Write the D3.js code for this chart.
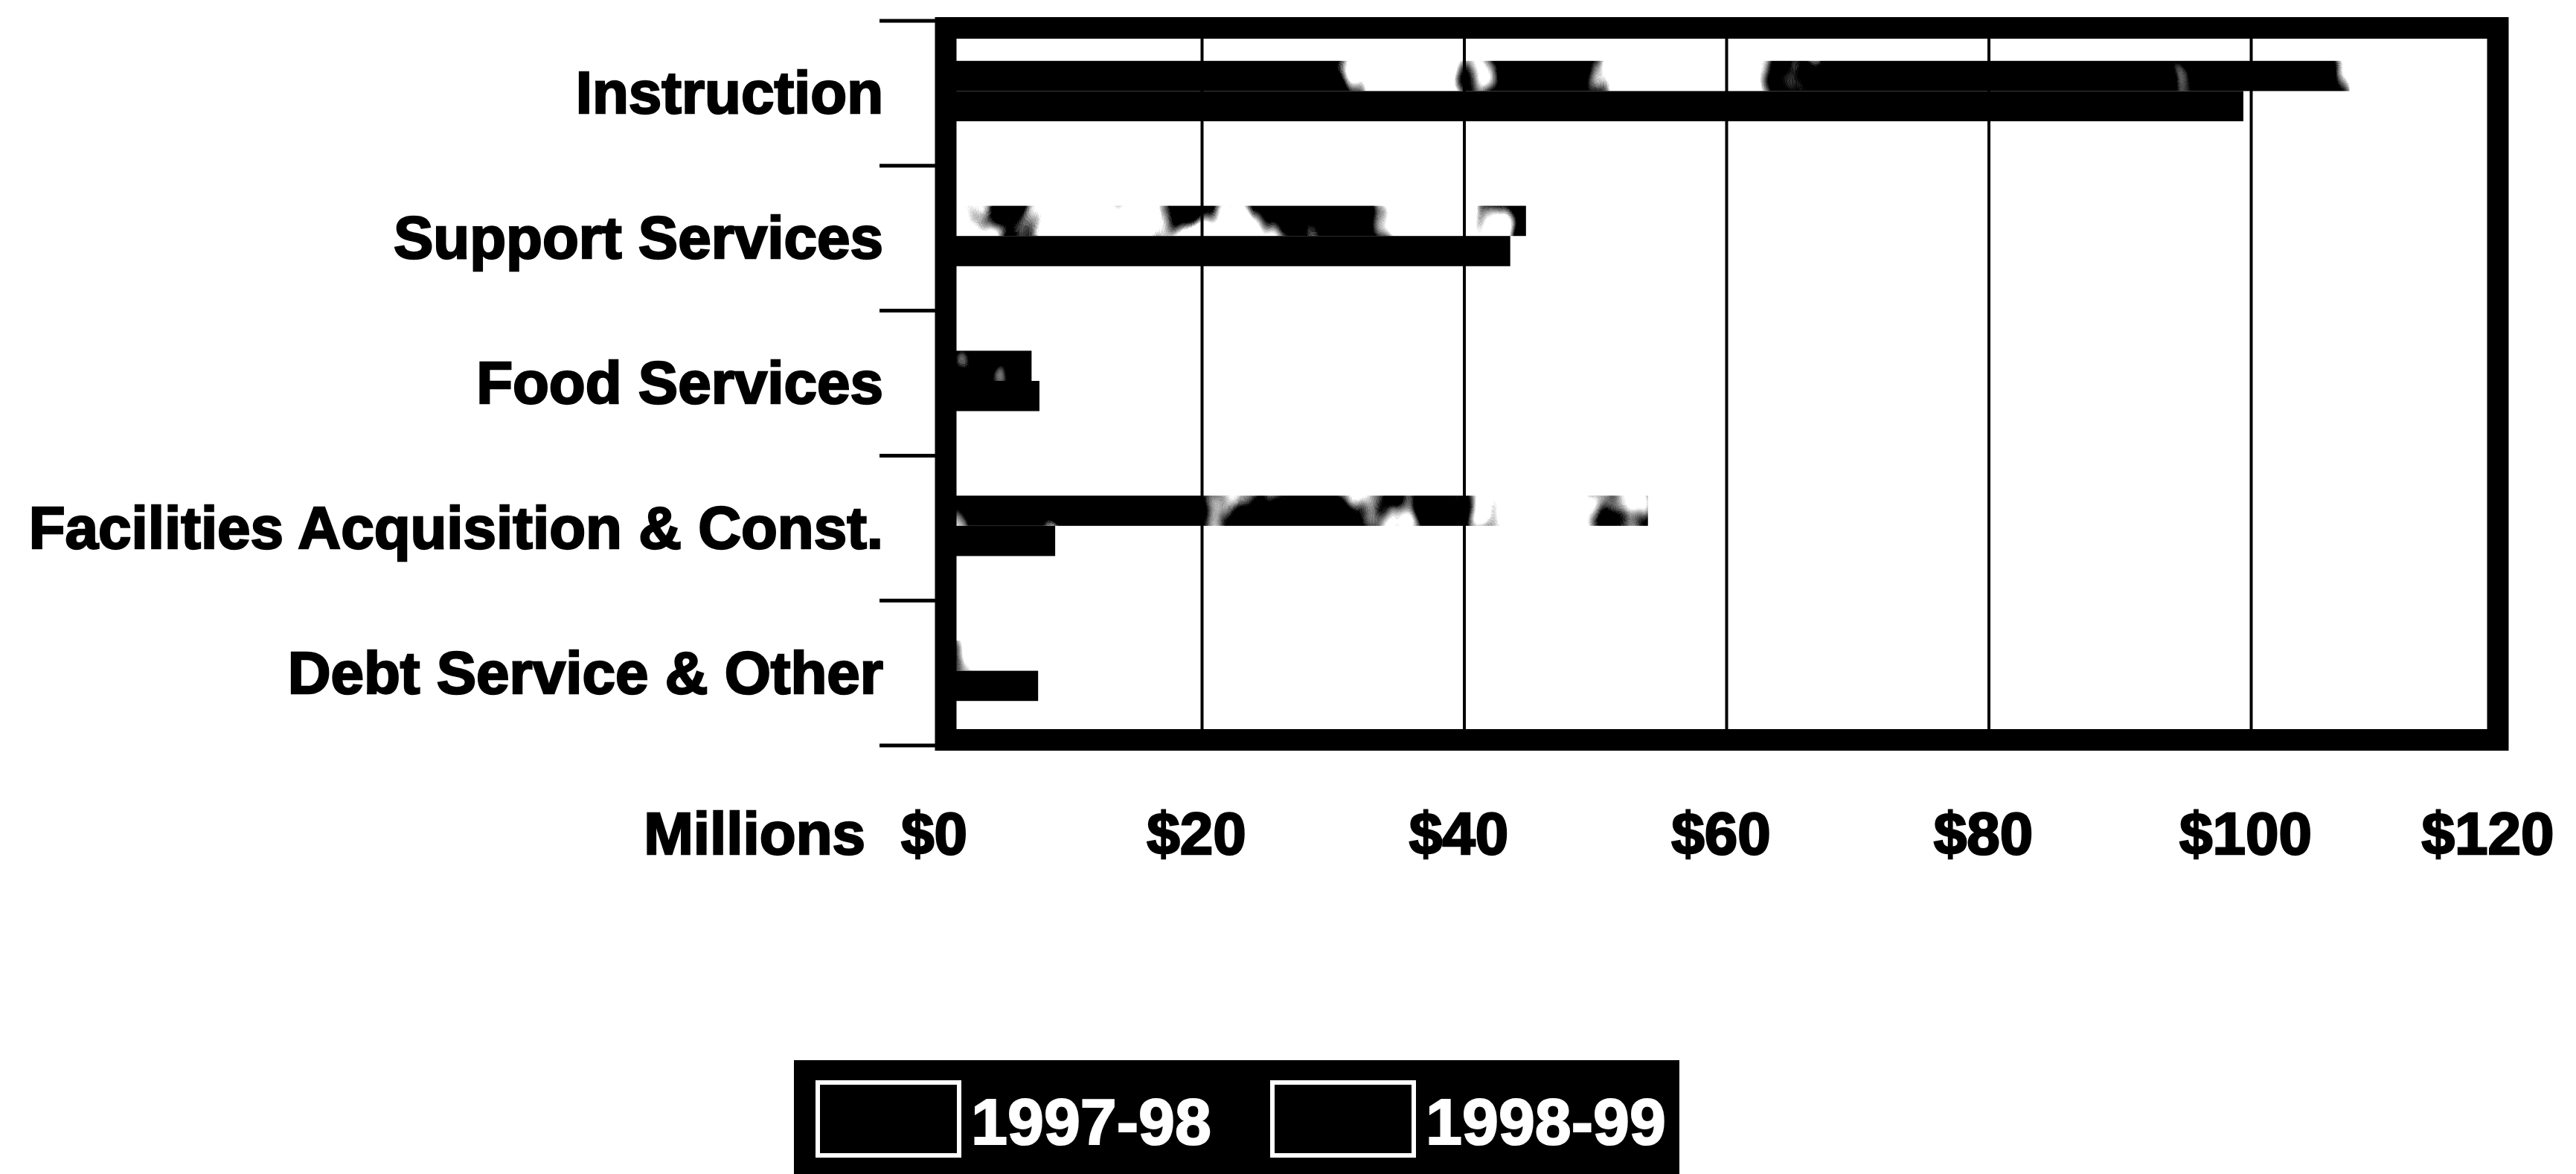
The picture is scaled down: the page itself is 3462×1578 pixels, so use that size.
<!DOCTYPE html>
<html>
<head>
<meta charset="utf-8">
<script src="https://cdn.jsdelivr.net/npm/d3@7"></script>
<style>
  html, body { margin: 0; padding: 0; background: #fff; }
  svg { display: block; }
  text { font-family: "Liberation Sans", Arial, Helvetica, sans-serif; font-weight: bold; }
</style>
</head>
<body>
<script>
// Expenditures by function, in millions of dollars
const categories = [
  "Instruction",
  "Support Services",
  "Food Services",
  "Facilities Acquisition & Const.",
  "Debt Service & Other"
];
const seriesNames = ["1997-98", "1998-99"];
const values1997 = [107.5, 44.7, 7.0, 54.0, 8.5];
const values1998 = [99.4, 43.5, 7.6, 8.8, 7.5];
const xTickValues = [0, 20, 40, 60, 80, 100, 120];
const xAxisTitle = "Millions";

const W = 3462, H = 1578;

const svg = d3.select("body").append("svg")
  .attr("width", W).attr("height", H)
  .attr("viewBox", `0 0 ${W} ${H}`);

// Coarse stippled fill used for the 1997-98 series
const defs = svg.append("defs");
const grain = defs.append("filter")
  .attr("id", "grain97")
  .attr("filterUnits", "userSpaceOnUse")
  .attr("x", 0).attr("y", 0).attr("width", W).attr("height", H)
  .attr("color-interpolation-filters", "sRGB");
grain.append("feTurbulence")
  .attr("type", "fractalNoise")
  .attr("baseFrequency", "0.006 0.004")
  .attr("numOctaves", 4)
  .attr("seed", 5)
  .attr("result", "noise");
grain.append("feColorMatrix")
  .attr("in", "noise")
  .attr("type", "matrix")
  .attr("values", "0 0 0 0 0  0 0 0 0 0  0 0 0 0 0  16 0 0 0 -6.7")
  .attr("result", "blots");
grain.append("feComposite")
  .attr("in", "blots").attr("in2", "SourceGraphic").attr("operator", "in");

// Scales
const x = d3.scaleLinear().domain([0, 120]).range([1263, 3378]);
const y = d3.scaleBand().domain(categories).range([28, 1002]).paddingInner(0).paddingOuter(0);
const ySub = d3.scaleBand().domain(seriesNames)
  .range([-3, y.bandwidth() - 3]).paddingInner(0).paddingOuter(1.4);

const frame = { x: 1271, y: 37.5, w: 2086, h: 957, stroke: 29 };

// Vertical gridlines
svg.append("g").selectAll("line")
  .data(xTickValues.filter(d => d > 0 && d < 120))
  .join("line")
  .attr("x1", d => x(d)).attr("x2", d => x(d))
  .attr("y1", frame.y).attr("y2", frame.y + frame.h)
  .attr("stroke", "#000").attr("stroke-width", 4);

// Bars
const rows = categories.map((c, i) => ({ cat: c, "1997-98": values1997[i], "1998-99": values1998[i] }));

svg.append("g").attr("filter", "url(#grain97)")
  .selectAll("rect")
  .data(rows)
  .join("rect")
  .attr("x", x(0))
  .attr("y", d => y(d.cat) + ySub("1997-98"))
  .attr("width", d => x(d["1997-98"]) - x(0))
  .attr("height", ySub.bandwidth())
  .attr("fill", "#000");

svg.append("g")
  .selectAll("rect")
  .data(rows)
  .join("rect")
  .attr("x", x(0))
  .attr("y", d => y(d.cat) + ySub("1998-99"))
  .attr("width", d => x(d["1998-99"]) - x(0))
  .attr("height", ySub.bandwidth())
  .attr("fill", "#000");

// Heavy plot frame
svg.append("rect")
  .attr("x", frame.x).attr("y", frame.y)
  .attr("width", frame.w).attr("height", frame.h)
  .attr("fill", "none").attr("stroke", "#000").attr("stroke-width", frame.stroke);

// Category boundary ticks on the left
const boundaries = categories.map(c => y(c)).concat([y.range()[1]]);
svg.append("g").selectAll("line")
  .data(boundaries)
  .join("line")
  .attr("x1", 1182).attr("x2", frame.x)
  .attr("y1", d => d).attr("y2", d => d)
  .attr("stroke", "#000").attr("stroke-width", 5);

// Category labels
svg.append("g").selectAll("text")
  .data(categories)
  .join("text")
  .attr("x", 1187)
  .attr("y", d => y(d) + y.bandwidth() / 2 + 27)
  .attr("text-anchor", "end")
  .attr("font-size", 80)
  .attr("fill", "#000").attr("stroke", "#000").attr("stroke-width", 2.5)
  .text(d => d);

// X axis tick labels
const xAxis = d3.axisBottom(x)
  .tickValues(xTickValues)
  .tickFormat(d => "$" + d)
  .tickSize(0).tickPadding(0);

const gx = svg.append("g").attr("transform", "translate(-8,1148)").call(xAxis);
gx.select(".domain").remove();
gx.selectAll(".tick text")
  .attr("y", 0).attr("dy", 0)
  .attr("font-size", 80)
  .attr("font-family", null)
  .attr("fill", "#000").attr("stroke", "#000").attr("stroke-width", 2.5)
  .each(function (d) {
    // keep the last label inside the page
    const w = this.getComputedTextLength();
    const right = x(d) - 8 + w / 2;
    if (right > W - 30) d3.select(this).attr("x", (W - 30) - right);
  });

svg.append("text")
  .attr("x", x(0) - 100).attr("y", 1148)
  .attr("text-anchor", "end")
  .attr("font-size", 80)
  .attr("fill", "#000").attr("stroke", "#000").attr("stroke-width", 2.5)
  .text(xAxisTitle);

// Legend
const legend = svg.append("g");
legend.append("rect")
  .attr("x", 1067).attr("y", 1425)
  .attr("width", 1190).attr("height", 170)
  .attr("fill", "#000");

const legendOffsets = [0, 611];
const items = legend.selectAll("g.item")
  .data(seriesNames)
  .join("g").attr("class", "item")
  .attr("transform", (d, i) => `translate(${1099 + legendOffsets[i]},1455)`);

items.append("rect")
  .attr("x", 0).attr("y", 0)
  .attr("width", 190).attr("height", 98)
  .attr("fill", "#000")
  .attr("stroke", "#fff").attr("stroke-width", 6);

items.append("text")
  .attr("x", 206).attr("y", 83)
  .attr("font-size", 88)
  .attr("fill", "#fff").attr("stroke", "#fff").attr("stroke-width", 2)
  .text(d => d);
</script>
</body>
</html>
